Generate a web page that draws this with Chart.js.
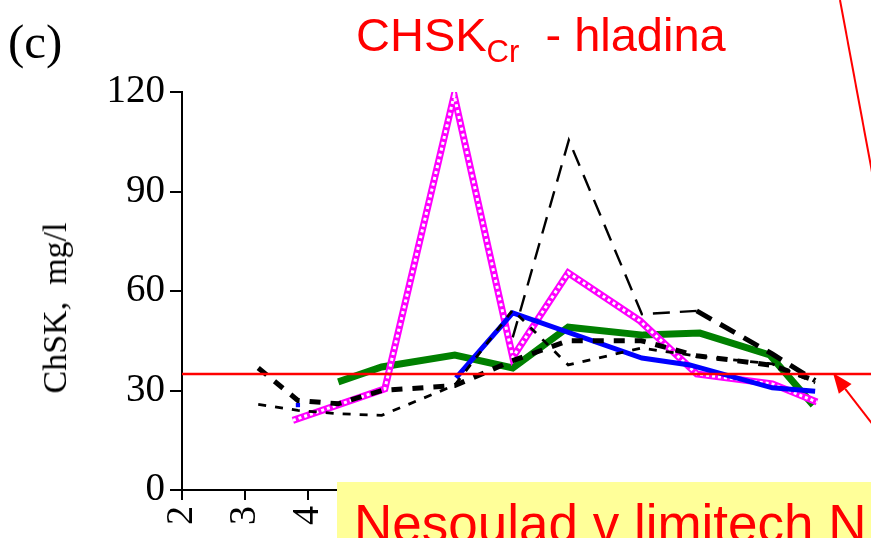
<!DOCTYPE html>
<html><head><meta charset="utf-8">
<script src="https://cdn.jsdelivr.net/npm/chart.js@4.4.1/dist/chart.umd.min.js"></script>
<style>
html,body{margin:0;padding:0;background:#fff;overflow:hidden;width:871px;height:538px;}
#wrap{position:relative;width:871px;height:538px;overflow:hidden;background:#fff;}
#cv{position:absolute;left:0;top:0;}
#lbl{position:absolute;left:8px;top:17px;font-family:'Liberation Serif';font-size:49px;line-height:49px;color:#000;}
#title{position:absolute;left:356px;top:11px;font-family:'Liberation Sans';font-size:47px;line-height:47px;color:#ff0000;white-space:pre;}
#title .sub{font-size:31px;position:relative;top:11px;}
#ytitle{position:absolute;left:55px;top:308px;transform:translate(-50%,-50%) rotate(-90deg);font-family:'Liberation Serif';font-size:34px;line-height:34px;white-space:pre;color:#000;}
#note{position:absolute;left:337px;top:482px;width:560px;height:80px;background:#ffff99;overflow:hidden;}
#note span{position:absolute;left:17px;top:15px;font-family:'Liberation Sans';font-size:53px;line-height:53px;color:#ff0000;white-space:pre;}
</style></head><body>
<div id="wrap">
<canvas id="cv" width="880" height="538"></canvas>
<div id="lbl">(c)</div>
<div id="title">CHSK<span class="sub">Cr</span>  - hladina</div>
<div id="ytitle">ChSK,  mg/l</div>
<div id="note"><span>Nesoulad v limitech N</span></div>
</div>
<script>
// ---- data ----
const xTicks = [2, 3, 4, 5, 6, 7, 8, 9, 10, 11, 12];
const yTicks = [0, 30, 60, 90, 120];
const LIMIT = 35;

const magentaX = [3.76, 5.22, 6.32, 7.25, 8.13, 9.27, 10.17, 11.37, 12.08];
const magentaY = [21, 30.5, 119, 40, 65.5, 51, 35, 32, 26.5];

const blueX = [3.84, 5.2, 6.35, 7.25, 9.3, 10.06, 11.37, 12.05];
const blueY = [25.6, null, 33.8, 53.4, 39.8, 37.7, 30.8, 29.8];

const greenX = [4.48, 5.17, 6.33, 7.25, 8.13, 9.32, 10.22, 11.33, 12.02];
const greenY = [32.6, 37.1, 40.7, 36.8, 49.1, 46.7, 47.3, 40.7, 25.6];

const longDashX = [7.25, 8.14, 9.3, 10.17, 11.37, 12.05];
const longDashY = [46, 105.5, 53, 54, 41, 33];

const dashDotX = [3.21, 3.84, 4.48, 5.17, 6.33, 7.25, 8.13, 9.29, 10.17, 11.37, 12.05];
const dashDotY = [25.8, 24, 23, 22.5, 31.6, 54.3, 37.7, 42.8, 40.4, 38, 32.3];

const thickDashX = [3.21, 3.84, 4.48, 5.17, 6.33, 7.25, 8.13, 9.29, 10.17, 11.37, 12.05];
const thickDashY = [36.8, 27, 26, 30, 31.5, 39, 45, 45, 40.5, 37.6, 33];

const pts = (xs, ys) => xs.map((x, i) => ({x: x, y: ys[i]}));

const base = {pointRadius: 0, tension: 0, fill: false, borderCapStyle: 'butt', borderJoinStyle: 'miter', spanGaps: false};

const datasets = [
  Object.assign({}, base, {label: 'limit', data: [{x: 2, y: LIMIT}, {x: 13, y: LIMIT}], borderColor: '#ff0000', borderWidth: 2.5}),
  Object.assign({}, base, {label: 'long dash', data: pts(longDashX, longDashY), borderColor: '#000', borderWidth: 2.4, borderDash: [17, 10],
    segment: {borderWidth: c => c.p0.parsed.x >= 10 ? 5 : 2.4}}),
  Object.assign({}, base, {label: 'dash dot', data: pts(dashDotX, dashDotY), borderColor: '#000', borderWidth: 2.8, borderDash: [8, 9]}),
  Object.assign({}, base, {label: 'thick dash', data: pts(thickDashX, thickDashY), borderColor: '#000', borderWidth: 5, borderDash: [11, 10]}),
  Object.assign({}, base, {label: 'blue', data: pts(blueX, blueY), borderColor: '#0000ff', borderWidth: 5,
    pointRadius: blueX.map((v, i) => i === 0 ? 3 : 0), pointStyle: 'rect', pointBackgroundColor: '#0000ff', pointBorderWidth: 0}),
  Object.assign({}, base, {label: 'magenta dots', data: pts(magentaX, magentaY), borderColor: '#ffffff', borderWidth: 3, borderDash: [3, 3]}),
  Object.assign({}, base, {label: 'magenta', data: pts(magentaX, magentaY), borderColor: '#ff00ff', borderWidth: 7}),
  Object.assign({}, base, {label: 'green', data: pts(greenX, greenY), borderColor: '#008000', borderWidth: 7})
];

const annot = {
  id: 'annot',
  afterDraw(chart) {
    const ctx = chart.ctx;
    ctx.save();
    ctx.strokeStyle = '#ff0000';
    ctx.fillStyle = '#ff0000';
    ctx.lineWidth = 2;
    ctx.beginPath();
    ctx.moveTo(840, 0);
    ctx.lineTo(880, 215);
    ctx.stroke();
    const tx = 833, ty = 373, sx = 880, sy = 434;
    const ang = Math.atan2(ty - sy, tx - sx);
    const hl = 20, hw = 8;
    const bx = tx - hl * Math.cos(ang), by = ty - hl * Math.sin(ang);
    ctx.beginPath();
    ctx.moveTo(sx, sy);
    ctx.lineTo(bx, by);
    ctx.stroke();
    ctx.beginPath();
    ctx.moveTo(tx, ty);
    ctx.lineTo(bx + hw * Math.sin(ang), by - hw * Math.cos(ang));
    ctx.lineTo(bx - hw * Math.sin(ang), by + hw * Math.cos(ang));
    ctx.closePath();
    ctx.fill();
    ctx.restore();
  }
};

new Chart(document.getElementById('cv'), {
  type: 'line',
  data: {datasets: datasets},
  options: {
    responsive: false,
    animation: false,
    devicePixelRatio: 1,
    layout: {padding: {top: 92, right: 5, left: 0, bottom: 0}},
    plugins: {legend: {display: false}, tooltip: {enabled: false}, title: {display: false}},
    scales: {
      x: {
        type: 'linear', min: 2, max: 13,
        afterBuildTicks: s => { s.ticks = xTicks.map(v => ({value: v})); },
        afterFit: s => { s.height = 48; },
        ticks: {autoSkip: false, minRotation: 90, maxRotation: 90, padding: 6, color: '#000',
          font: {family: 'Liberation Serif', size: 38}},
        grid: {drawOnChartArea: false, drawTicks: true, tickLength: 10, color: '#000', lineWidth: 2},
        border: {display: true, color: '#000', width: 2}
      },
      y: {
        type: 'linear', min: 0, max: 120,
        afterBuildTicks: s => { s.ticks = yTicks.map(v => ({value: v})); },
        afterFit: s => { s.width = 182; },
        ticks: {padding: 5, color: '#000', font: {family: 'Liberation Serif', size: 39}},
        grid: {drawOnChartArea: false, drawTicks: true, tickLength: 12, color: '#000', lineWidth: 2},
        border: {display: true, color: '#000', width: 2}
      }
    }
  },
  plugins: [annot]
});
</script>
</body></html>
